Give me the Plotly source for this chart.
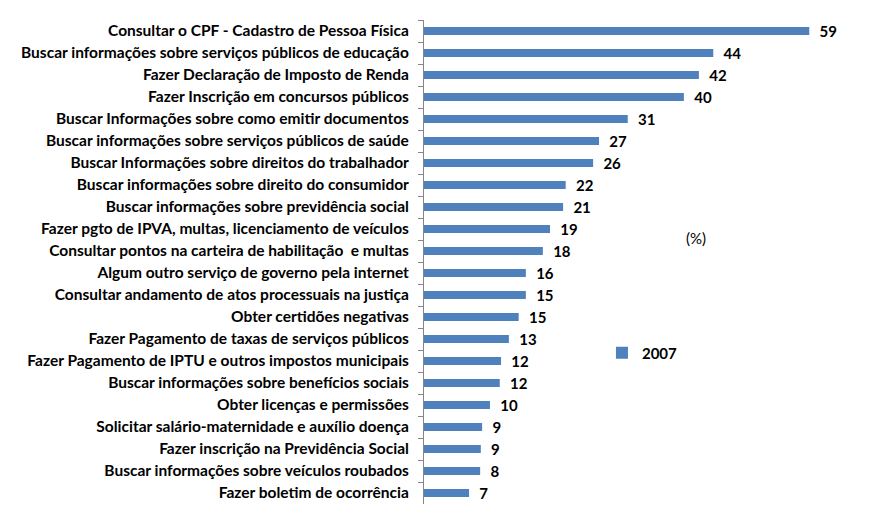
import plotly.graph_objects as go

categories = [
    "Consultar o CPF - Cadastro de Pessoa Física",
    "Buscar informações sobre serviços públicos de educação",
    "Fazer Declaração de Imposto de Renda",
    "Fazer Inscrição em concursos públicos",
    "Buscar Informações sobre como emitir documentos",
    "Buscar informações sobre serviços públicos de saúde",
    "Buscar Informações sobre direitos do trabalhador",
    "Buscar informações sobre direito do consumidor",
    "Buscar informações sobre previdência social",
    "Fazer pgto de IPVA, multas, licenciamento de veículos",
    "Consultar pontos na carteira de habilitação  e multas",
    "Algum outro serviço de governo pela internet",
    "Consultar andamento de atos processuais na justiça",
    "Obter certidões negativas",
    "Fazer Pagamento de taxas de serviços públicos",
    "Fazer Pagamento de IPTU e outros impostos municipais",
    "Buscar informações sobre benefícios sociais",
    "Obter licenças e permissões",
    "Solicitar salário-maternidade e auxílio doença",
    "Fazer inscrição na Previdência Social",
    "Buscar informações sobre veículos roubados",
    "Fazer boletim de ocorrência",
]
values_2007 = [59, 44.3, 42.1, 39.8, 31.2, 26.8, 25.9, 21.7, 21.3, 19.3, 18.2,
               15.6, 15.6, 14.5, 13.0, 11.8, 11.6, 10.1, 8.9, 8.7, 8.6, 6.9]
value_labels = ["59", "44", "42", "40", "31", "27", "26", "22", "21", "19", "18",
                "16", "15", "15", "13", "12", "12", "10", "9", "9", "8", "7"]
series_name = "2007"

FONT = "Lato"
BLUE = "#4F81BD"

fig = go.Figure()
fig.add_trace(go.Bar(
    y=categories,
    x=values_2007,
    orientation="h",
    name=series_name,
    marker=dict(color=BLUE, line=dict(width=0)),
    text=value_labels,
    texttemplate="  %{text}",
    textposition="outside",
    constraintext="none",
    cliponaxis=False,
    textfont=dict(family=FONT, size=15, color="black", weight="bold"),
    showlegend=True,
))

fig.update_layout(
    width=885, height=516,
    margin=dict(l=424, r=0, t=20, b=12),
    paper_bgcolor="white", plot_bgcolor="white",
    bargap=0.64,
    font=dict(family=FONT, color="black"),
    xaxis=dict(range=[0, 70.6], visible=False, fixedrange=True),
    yaxis=dict(
        categoryorder="array", categoryarray=categories, autorange="reversed",
        showline=True, linecolor="#868686", linewidth=1,
        ticks="outside", ticklen=5, tickcolor="#868686", tickson="boundaries",
        tickfont=dict(family=FONT, size=15.5, color="black", weight="bold"),
        ticklabelstandoff=11,
        showgrid=False, automargin=False, fixedrange=True,
    ),
    legend=dict(
        x=0.386, y=0.312, xanchor="left", yanchor="middle",
        font=dict(family=FONT, size=15, color="black", weight="bold"),
        bgcolor="rgba(0,0,0,0)", itemwidth=30,
    ),
    annotations=[dict(
        text="(%)", x=0.59, y=0.55, xref="paper", yref="paper",
        showarrow=False, font=dict(family=FONT, size=15, color="black"),
    )],
)

fig.write_html("out.html", config={"displayModeBar": False},
               post_script="document.body.style.margin='0';")
